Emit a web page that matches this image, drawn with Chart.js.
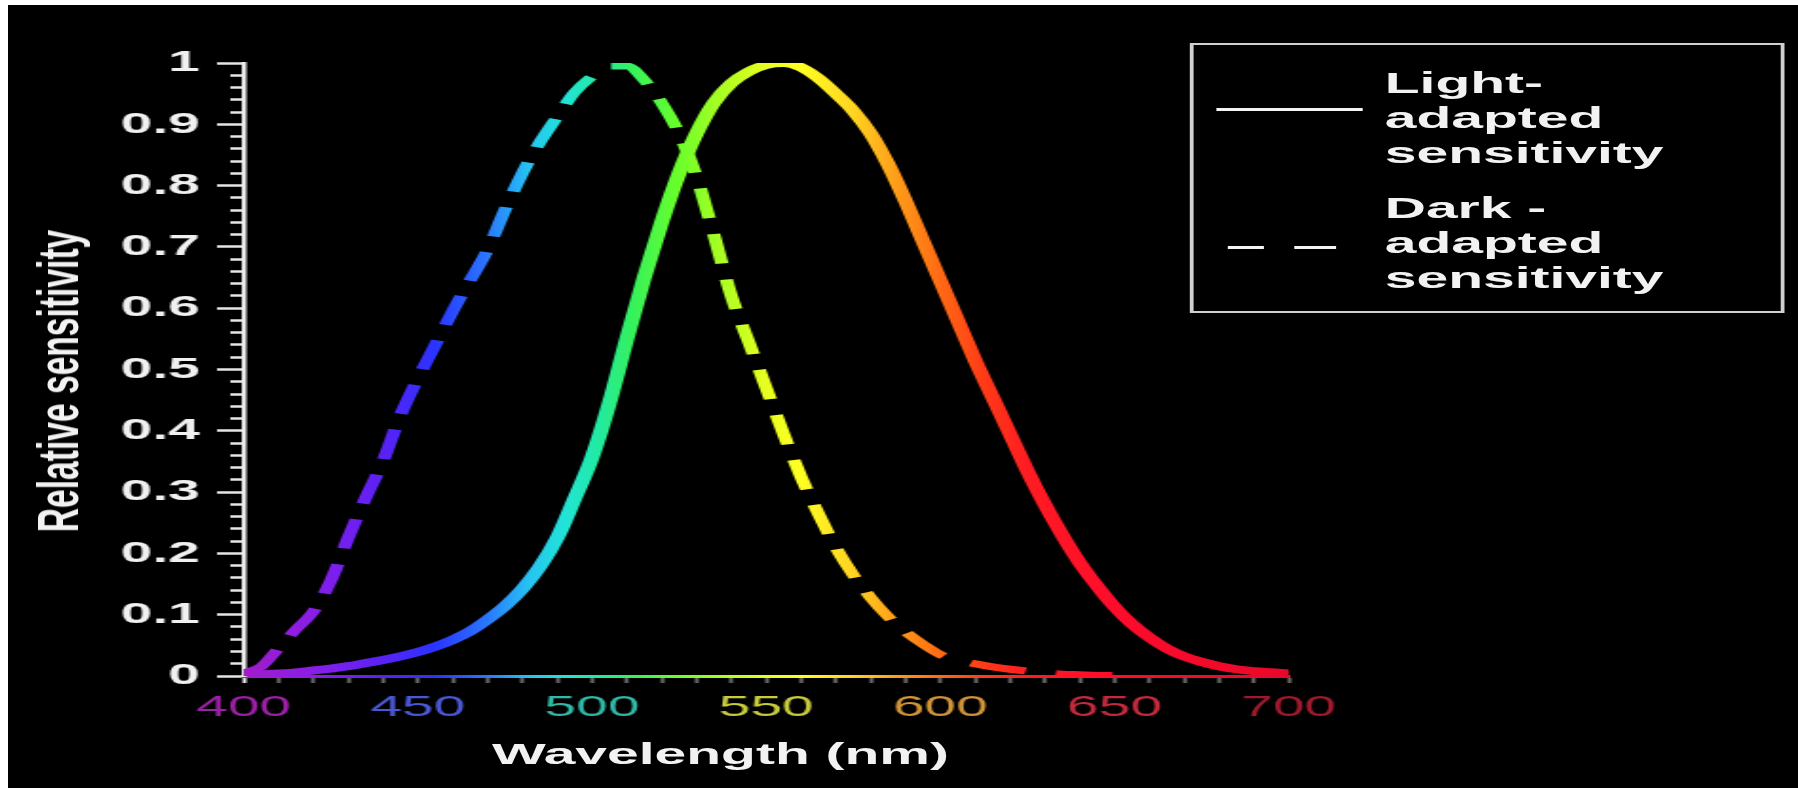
<!DOCTYPE html>
<html>
<head>
<meta charset="utf-8">
<title>Relative sensitivity</title>
<script src="https://cdn.jsdelivr.net/npm/chart.js@4.4.1/dist/chart.umd.min.js"></script>
<style>
  html, body { margin: 0; padding: 0; background: #fff; }
  body { width: 1798px; height: 788px; overflow: hidden; position: relative; }
  /* the source picture is stretched sideways, so the whole stage is drawn narrow and scaled */
  #panel { position: absolute; left: 8px; top: 5px; width: 1790px; height: 783px; background: #000; overflow: hidden; }
  #stage { position: absolute; left: 0; top: 0; width: 942px; height: 783px;
    transform: scaleX(1.9); transform-origin: 0 0;
    font-family: "Liberation Sans", Arial, sans-serif; color: #f2f2f2; }
  #stage canvas { position: absolute; left: 0; top: 0; }
  #ytitle { position: absolute; left: 27px; top: 376px; white-space: nowrap;
    font-weight: bold; font-size: 30px; line-height: 34px;
    transform: translate(-50%, -50%) rotate(-90deg) scaleX(1.12); }
  #xtitle { position: absolute; left: 375px; top: 734px; white-space: nowrap;
    font-weight: bold; font-size: 30px; line-height: 30px; transform: translateX(-50%); }
  #legend { position: absolute; left: 621.6px; top: 38px; width: 313px; height: 270px;
    box-sizing: border-box; border: 2.5px solid #cfcfcf; }
  .lg-text { position: absolute; left: 101px; font-weight: bold; font-size: 30px; line-height: 35px; white-space: nowrap; }
  .lg-line { position: absolute; height: 0; border-top: 3px solid #f4f4f4; }
</style>
</head>
<body>
<div id="panel">
  <div id="stage">
    <canvas id="chart" width="942" height="783"></canvas>
    <div id="ytitle">Relative sensitivity</div>
    <div id="xtitle">Wavelength (nm)</div>
    <div id="legend">
      <div class="lg-line" style="left:12.7px; top:63px; width:76.4px"></div>
      <div class="lg-text" style="top:20px">Light-<br>adapted<br>sensitivity</div>
      <div class="lg-line" style="left:18.3px; top:201px; width:19.5px"></div>
      <div class="lg-line" style="left:53.2px; top:201px; width:22.7px"></div>
      <div class="lg-text" style="top:145px">Dark -<br>adapted<br>sensitivity</div>
    </div>
  </div>
</div>
<script>
/* Photopic vs scotopic sensitivity. */

const WAVELENGTHS = [
  400, 405, 410, 415, 420, 425, 430, 435, 440, 445,
  450, 455, 460, 465, 470, 475, 480, 485, 490, 495,
  500, 505, 510, 515, 520, 525, 530, 535, 540, 545,
  550, 555, 560, 565, 570, 575, 580, 585, 590, 595,
  600, 605, 610, 615, 620, 625, 630, 635, 640, 645,
  650, 655, 660, 665, 670, 675, 680, 685, 690, 695,
  700,
];

const LIGHT_ADAPTED = [
  0.003, 0.003, 0.004, 0.006, 0.009, 0.012, 0.016, 0.021, 0.026, 0.032,
  0.039, 0.048, 0.059, 0.073, 0.092, 0.114, 0.142, 0.178, 0.225, 0.289,
  0.356, 0.445, 0.55, 0.65, 0.74, 0.82, 0.885, 0.935, 0.967, 0.986,
  0.997, 1.0, 0.993, 0.975, 0.95, 0.922, 0.885, 0.835, 0.775, 0.71,
  0.645, 0.58, 0.515, 0.455, 0.395, 0.335, 0.28, 0.23, 0.185, 0.147,
  0.113, 0.085, 0.063, 0.045, 0.032, 0.023, 0.016, 0.011, 0.008, 0.006,
  0.004,
];

const DARK_ADAPTED = [
  0.005, 0.015, 0.045, 0.076, 0.105, 0.155, 0.225, 0.29, 0.35, 0.425,
  0.485, 0.54, 0.595, 0.645, 0.695, 0.76, 0.82, 0.87, 0.912, 0.952,
  0.978, 0.995, 0.995, 0.972, 0.935, 0.885, 0.815, 0.72, 0.62, 0.545,
  0.47, 0.395, 0.325, 0.265, 0.21, 0.165, 0.128, 0.097, 0.072, 0.052,
  0.035, 0.026, 0.02, 0.015, 0.011, 0.008, 0.005, 0.003, 0.002, 0.001,
  0.001, null, null, null, null, null, null, null, null, null,
  null,
];

const X_TICK_LABELS = [400, 450, 500, 550, 600, 650, 700];
const Y_TICK_LABELS = [0, 0.1, 0.2, 0.3, 0.4, 0.5, 0.6, 0.7, 0.8, 0.9, 1];

// colour of the line at a given wavelength
const SPECTRUM = [
  [400, "#a21cc8"], [420, "#8a1ee8"], [440, "#5a22f5"], [455, "#2a34ff"],
  [470, "#2a78ff"], [482, "#26c4f2"], [492, "#22e4d8"], [502, "#22eaa0"],
  [512, "#36f25a"], [525, "#6cff2a"], [540, "#b8ff22"], [550, "#e8ff20"],
  [560, "#ffff22"], [575, "#ffd422"], [588, "#ff9a18"], [600, "#ff6a14"],
  [612, "#ff3c16"], [625, "#ff1c22"], [650, "#ff0c2c"], [700, "#e8082a"],
];
// the x labels are dimmer than the lines
const X_LABEL_COLORS = {
  400: "#9c20a6", 450: "#4a58d6", 500: "#30b8a8", 550: "#c8cc3a",
  600: "#d2943a", 650: "#c42a3e", 700: "#a01a2e",
};

const FONT = "'Liberation Sans', Arial, sans-serif";
Chart.defaults.font.family = FONT;

let gradCache = null;
function spectrum(chart) {
  const a = chart.chartArea;
  if (!a) return "#ffffff";
  if (gradCache && gradCache.left === a.left && gradCache.right === a.right) return gradCache.g;
  const g = chart.ctx.createLinearGradient(a.left, 0, a.right, 0);
  for (const [nm, col] of SPECTRUM) g.addColorStop((nm - 400) / 300, col);
  gradCache = { left: a.left, right: a.right, g };
  return g;
}

function isLabelled(list, v) {
  return list.some((t) => Math.abs(t - v) < 1e-6);
}

function points(ys) {
  return WAVELENGTHS.map((x, i) => ({ x, y: ys[i] })).filter((p) => p.y !== null);
}

new Chart(document.getElementById("chart"), {
  type: "line",
  data: {
    datasets: [
      {
        label: "Light-adapted sensitivity",
        data: points(LIGHT_ADAPTED),
        borderColor: (c) => spectrum(c.chart),
        borderWidth: 8,
        borderJoinStyle: "round",
        pointRadius: 0,
        cubicInterpolationMode: "monotone",
      },
      {
        label: "Dark-adapted sensitivity",
        data: points(DARK_ADAPTED),
        borderColor: (c) => spectrum(c.chart),
        borderWidth: 7,
        borderDash: [30, 16],
        pointRadius: 0,
        cubicInterpolationMode: "monotone",
      },
    ],
  },
  options: {
    responsive: false,
    animation: false,
    events: [],
    layout: { padding: { top: 58, right: 268, bottom: 0, left: 0 } },
    plugins: { legend: { display: false }, tooltip: { enabled: false } },
    scales: {
      x: {
        type: "linear",
        min: 400,
        max: 700,
        afterFit: (s) => { s.height = 112; },
        border: { display: true, width: 3, color: (c) => spectrum(c.chart) },
        grid: {
          drawOnChartArea: false,
          tickLength: 7,
          tickWidth: 2,
          tickColor: (c) => (c.tick && c.tick.value === 400 ? "#eeeeee" : "#6a6a6a"),
        },
        ticks: {
          stepSize: 10,
          autoSkip: false,
          maxRotation: 0,
          padding: 7,
          font: { size: 30 },
          color: (c) => X_LABEL_COLORS[c.tick.value] || "#888",
          callback: (v) => (isLabelled(X_TICK_LABELS, v) ? String(v) : ""),
        },
      },
      y: {
        min: 0,
        max: 1,
        afterFit: (s) => { s.width = 124; },
        border: { display: true, width: 2.5, color: "#ececec" },
        grid: {
          drawOnChartArea: false,
          tickLength: 14,
          tickWidth: 2.5,
          tickColor: "#e6e6e6",
          // minor ticks: only the half next to the axis is drawn
          tickBorderDash: (c) => (isLabelled(Y_TICK_LABELS, c.tick.value) ? [] : [7, 7]),
          tickBorderDashOffset: (c) => (isLabelled(Y_TICK_LABELS, c.tick.value) ? 0 : 7),
        },
        ticks: {
          stepSize: 0.02,
          autoSkip: false,
          padding: 9,
          color: "#f0f0f0",
          font: { size: 30, weight: "bold" },
          callback: (v) => (isLabelled(Y_TICK_LABELS, v) ? String(Math.round(v * 10) / 10) : ""),
        },
      },
    },
  },
});
</script>
</body>
</html>
